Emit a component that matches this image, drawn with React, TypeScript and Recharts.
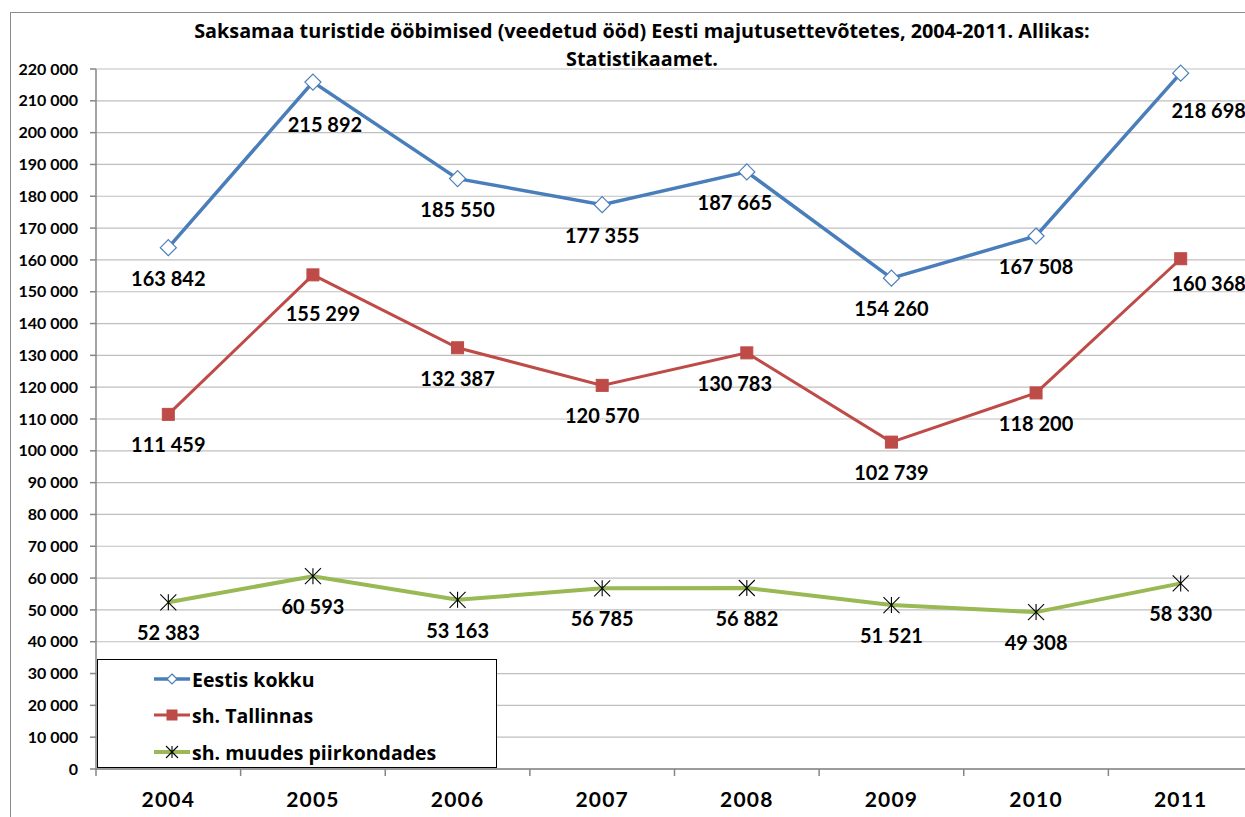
import { CartesianGrid, LabelList, Line, LineChart, XAxis, YAxis } from "recharts";

const years = ["2004", "2005", "2006", "2007", "2008", "2009", "2010", "2011"];
const eestisKokku = [163842, 215892, 185550, 177355, 187665, 154260, 167508, 218698];
const tallinnas = [111459, 155299, 132387, 120570, 130783, 102739, 118200, 160368];
const muudes = [52383, 60593, 53163, 56785, 56882, 51521, 49308, 58330];
const yTicks = [
  0, 10000, 20000, 30000, 40000, 50000, 60000, 70000, 80000, 90000, 100000, 110000,
  120000, 130000, 140000, 150000, 160000, 170000, 180000, 190000, 200000, 210000, 220000,
];

const rows = years.map((year, i) => ({
  year,
  kokku: eestisKokku[i],
  tallinn: tallinnas[i],
  muud: muudes[i],
}));

const FONT = "Lato, 'Open Sans', sans-serif";
const WIDE_FONT = "'Open Sans', Lato, sans-serif";
const BLUE = "#4A7EBB";
const RED = "#BE4B48";
const GREEN = "#98B954";
const AXIS = "#868686";

// plot box: x 96..1253, y 69..769 -> 8 category bands
const PLOT_W = 1157;
const BAND = PLOT_W / years.length;

const fmt = (v: number) => String(v).replace(/\B(?=(\d{3})+(?!\d))/g, " ");

type Nudge = Record<number, [number, number]>;

// Excel had a few labels dragged by hand
const nudgeKokku: Nudge = { 1: [12, 12], 4: [-12, 0], 7: [28, 7] };
const nudgeTallinn: Nudge = { 1: [10, 8], 4: [-12, 0], 7: [28, -6] };
const nudgeMuud: Nudge = {};

const pointLabel = (nudge: Nudge) => (props: any) => {
  const vb = props.viewBox || {};
  const x = props.x ?? vb.x;
  const y = props.y ?? vb.y;
  if (x == null || y == null) return null;
  const [dx, dy] = nudge[props.index] ?? [0, 0];
  return (
    <text
      x={x + dx}
      y={y + 38 + dy}
      textAnchor="middle"
      fontFamily={FONT}
      fontWeight={700}
      fontSize={20}
      fill="#000"
    >
      {fmt(Number(props.value))}
    </text>
  );
};

const Diamond = ({ cx, cy, r = 8 }: any) => (
  <polygon
    points={`${cx},${cy - r} ${cx + r},${cy} ${cx},${cy + r} ${cx - r},${cy}`}
    fill="#fff"
    stroke={BLUE}
    strokeWidth={1.2}
  />
);

const Square = ({ cx, cy, r = 6 }: any) => (
  <rect x={cx - r} y={cy - r} width={r * 2} height={r * 2} fill={RED} stroke={RED} />
);

const Star = ({ cx, cy, r = 8 }: any) => (
  <g stroke="#000" strokeWidth={1.1}>
    <line x1={cx - r} y1={cy - r} x2={cx + r} y2={cy + r} />
    <line x1={cx - r} y1={cy + r} x2={cx + r} y2={cy - r} />
    <line x1={cx} y1={cy - r} x2={cx} y2={cy + r} />
  </g>
);

const XTick = ({ x, y, payload, index }: any) => (
  <g>
    <line x1={x - BAND / 2} y1={y} x2={x - BAND / 2} y2={y + 7} stroke={AXIS} strokeWidth={1.5} />
    {index === years.length - 1 && (
      <line x1={x + BAND / 2} y1={y} x2={x + BAND / 2} y2={y + 7} stroke={AXIS} strokeWidth={1.5} />
    )}
    <text
      x={x}
      y={y + 38}
      textAnchor="middle"
      fontFamily={FONT}
      fontWeight={700}
      fontSize={21}
      letterSpacing={1.2}
      fill="#000"
    >
      {payload.value}
    </text>
  </g>
);

const legendItems = [
  { name: "Eestis kokku", color: BLUE, width: 3.5, Marker: Diamond, r: 5 },
  { name: "sh. Tallinnas", color: RED, width: 3, Marker: Square, r: 5 },
  { name: "sh. muudes piirkondades", color: GREEN, width: 4, Marker: Star, r: 6 },
];

function ChartLegend() {
  return (
    <div
      style={{
        position: "absolute",
        left: 97,
        top: 659,
        width: 398,
        height: 107,
        border: "1.5px solid #000",
        background: "#fff",
        fontFamily: WIDE_FONT,
        fontWeight: 700,
        fontSize: 19.5,
      }}
    >
      {legendItems.map((it, i) => (
        <div
          key={it.name}
          style={{
            position: "absolute",
            left: 56,
            top: [19, 55, 92][i] - 14,
            height: 28,
            display: "flex",
            alignItems: "center",
            whiteSpace: "nowrap",
          }}
        >
          <svg width={36} height={20} style={{ marginRight: 2 }}>
            <line x1={0} y1={10} x2={36} y2={10} stroke={it.color} strokeWidth={it.width} />
            <it.Marker cx={18} cy={10} r={it.r} />
          </svg>
          <span>{it.name}</span>
        </div>
      ))}
    </div>
  );
}

export default function App() {
  return (
    <div
      style={{
        position: "fixed",
        left: 0,
        top: 0,
        width: 1245,
        height: 817,
        overflow: "hidden",
        background: "#fff",
      }}
    >
      <div
        style={{
          position: "absolute",
          left: 10,
          top: 12,
          width: 1400,
          height: 1000,
          border: "1.5px solid #8c8c8c",
        }}
      />
      <div
        style={{
          position: "absolute",
          left: 92,
          width: 1100,
          top: 17,
          textAlign: "center",
          fontFamily: WIDE_FONT,
          fontWeight: 700,
          fontSize: 19.8,
          lineHeight: "28px",
          color: "#000",
        }}
      >
        Saksamaa turistide ööbimised (veedetud ööd) Eesti majutusettevõtetes, 2004-2011. Allikas:
        <br />
        Statistikaamet.
      </div>
      <div style={{ position: "absolute", left: 0, top: 0 }}>
        <LineChart
          width={1265}
          height={817}
          data={rows}
          margin={{ top: 69, right: 12, left: 0, bottom: 0 }}
        >
          <CartesianGrid stroke="#BFBFBF" strokeWidth={1.2} vertical={false} />
          <XAxis
            dataKey="year"
            scale="point"
            padding={{ left: BAND / 2, right: BAND / 2 }}
            height={48}
            axisLine={{ stroke: AXIS, strokeWidth: 1.5 }}
            tickLine={false}
            tickSize={0}
            tickMargin={0}
            tick={<XTick />}
            interval={0}
          />
          <YAxis
            width={96}
            domain={[0, 220000]}
            ticks={yTicks}
            interval={0}
            axisLine={{ stroke: AXIS, strokeWidth: 1.5 }}
            tickLine={{ stroke: AXIS, strokeWidth: 1.5 }}
            tickSize={6}
            tickMargin={12}
            tickFormatter={fmt}
            tick={{ fontFamily: FONT, fontWeight: 700, fontSize: 16, fill: "#000" }}
          />
          <Line
            dataKey="kokku"
            name="Eestis kokku"
            type="linear"
            stroke={BLUE}
            strokeWidth={3.5}
            dot={(p: any) => <Diamond key={p.index} cx={p.cx} cy={p.cy} />}
            isAnimationActive={false}
          >
            <LabelList dataKey="kokku" content={pointLabel(nudgeKokku)} />
          </Line>
          <Line
            dataKey="tallinn"
            name="sh. Tallinnas"
            type="linear"
            stroke={RED}
            strokeWidth={3}
            dot={(p: any) => <Square key={p.index} cx={p.cx} cy={p.cy} />}
            isAnimationActive={false}
          >
            <LabelList dataKey="tallinn" content={pointLabel(nudgeTallinn)} />
          </Line>
          <Line
            dataKey="muud"
            name="sh. muudes piirkondades"
            type="linear"
            stroke={GREEN}
            strokeWidth={4}
            dot={(p: any) => <Star key={p.index} cx={p.cx} cy={p.cy} />}
            isAnimationActive={false}
          >
            <LabelList dataKey="muud" content={pointLabel(nudgeMuud)} />
          </Line>
        </LineChart>
      </div>
      <ChartLegend />
    </div>
  );
}
